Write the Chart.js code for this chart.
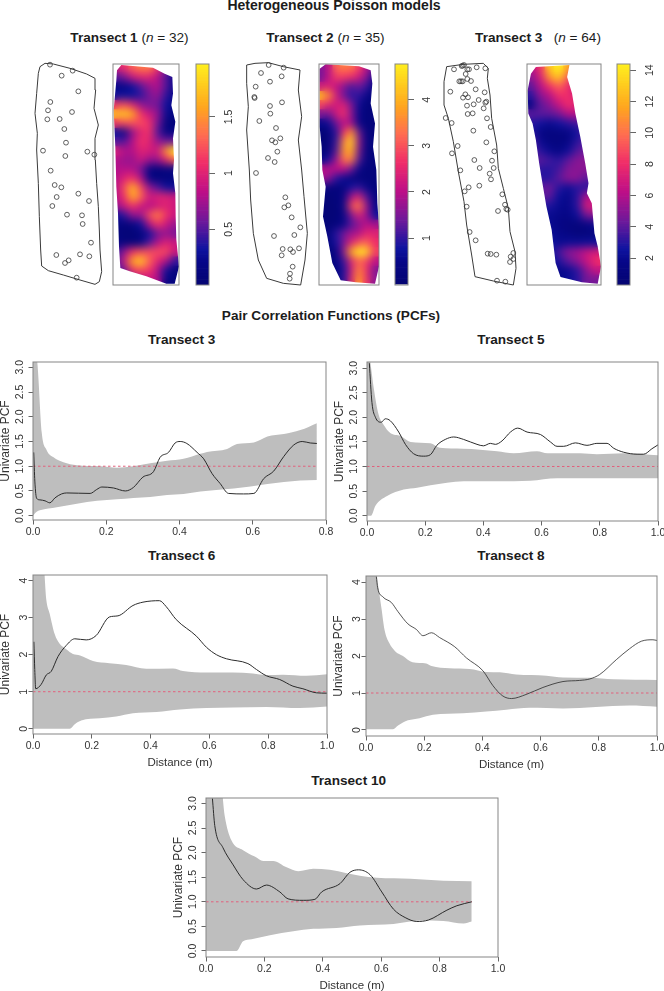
<!DOCTYPE html>
<html>
<head>
<meta charset="utf-8">
<title>Transect point patterns and PCFs</title>
<script src="https://cdn.jsdelivr.net/npm/chart.js@4"></script>
<style>
    html, body { margin: 0; padding: 0; background: #fff; }
    #page { position: relative; width: 664px; height: 991px; overflow: hidden; font-family: "Liberation Sans", Arial, sans-serif; color: #1c1c1c; }
    #page canvas { position: absolute; }
    .title { position: absolute; transform: translate(-50%, -50%); font-size: 13.6px; font-weight: bold; white-space: pre; }
    .title span { font-weight: normal; }
</style>
</head>
<body>
<div id="page">
    <div class="title" style="left:334px;top:5px;font-size:14px">Heterogeneous Poisson models</div>
    <div class="title" style="left:129.5px;top:37px">Transect 1 <span>(<i>n</i> = 32)</span></div>
    <div class="title" style="left:325.5px;top:37px">Transect 2 <span>(<i>n</i> = 35)</span></div>
    <div class="title" style="left:538px;top:37px">Transect 3   <span>(<i>n</i> = 64)</span></div>
    <div class="title" style="left:331px;top:315px">Pair Correlation Functions (PCFs)</div>
    <div class="title" style="left:181.7px;top:339px">Transect 3</div>
    <div class="title" style="left:511px;top:339px">Transect 5</div>
    <div class="title" style="left:181.7px;top:555px">Transect 6</div>
    <div class="title" style="left:511px;top:555px">Transect 8</div>
    <div class="title" style="left:348.7px;top:780px">Transect 10</div>
</div>
<script>
// ---- point patterns, coordinates (3x crop units)
const t1Outline = [[75,40],[60,50],[55,70],[50,130],[45,190],[52,250],[50,300],[55,400],[58,500],[62,600],[65,648],[85,662],[130,675],[180,690],[225,703],[238,695],[245,665],[240,600],[238,540],[235,470],[230,400],[226,330],[225,265],[235,225],[222,175],[227,120],[225,85],[200,72],[150,55],[100,42]];
const t1Points = [[90,44],[158,62],[125,77],[175,124],[91,156],[84,181],[156,186],[82,208],[119,207],[133,237],[138,278],[69,302],[202,305],[223,314],[136,318],[92,362],[104,405],[124,412],[110,441],[175,431],[207,453],[97,468],[141,494],[186,496],[188,522],[213,578],[109,615],[180,613],[208,619],[146,631],[135,639],[170,683]];
const t2Outline = [[50,135],[75,130],[115,128],[160,140],[210,150],[205,210],[215,290],[205,360],[215,450],[222,530],[232,640],[225,720],[212,795],[160,790],[110,775],[85,720],[70,640],[62,540],[58,450],[50,330],[55,260],[50,190]];
const t2Points = [[116,135],[161,143],[93,159],[155,169],[120,185],[77,200],[73,231],[74,234],[156,247],[120,258],[121,281],[88,303],[138,324],[151,355],[126,361],[136,367],[142,395],[114,414],[134,426],[78,459],[166,532],[175,556],[163,562],[185,592],[211,622],[193,645],[132,648],[158,687],[181,688],[207,685],[189,696],[155,706],[188,740],[180,761],[179,776]];
const t3Outline = [[20,35],[70,28],[130,25],[145,40],[142,70],[150,120],[155,190],[170,270],[175,340],[190,400],[205,460],[210,530],[225,590],[228,640],[220,690],[160,678],[105,665],[95,600],[80,510],[72,440],[55,350],[40,260],[25,190],[12,150],[12,80]];
const t3Points = [[68,32],[72,30],[65,33],[42,43],[87,43],[110,37],[136,40],[77,57],[82,43],[58,79],[63,79],[68,79],[82,72],[93,78],[107,103],[31,110],[134,112],[76,118],[69,128],[84,127],[116,135],[139,140],[136,143],[101,148],[81,152],[131,160],[83,177],[98,175],[141,190],[17,189],[35,204],[152,216],[100,227],[139,262],[53,273],[163,289],[36,295],[103,315],[156,317],[119,339],[161,339],[61,346],[149,356],[153,373],[86,397],[118,392],[74,409],[187,418],[195,449],[80,455],[203,464],[199,462],[174,468],[89,531],[107,556],[143,596],[152,597],[169,599],[220,594],[212,605],[220,612],[210,621],[171,677],[196,680]];

// ---- intensity surfaces, one row per line
const gridRows = [25,52,80,108,135,163,191,219,246,274,302,329,357,385,412,440,468,495,523,551,578,606,634,661];
const t1Cols = [22,47,72,97,122,147,172,197];
const t1Grid = [
    [0.9,1.1,1.3,1.4,1.4,1.1,0.6,0.3],
    [0.5,0.6,0.9,1.0,1.0,0.8,0.5,0.2],
    [0.2,0.2,0.3,0.5,0.7,0.8,0.5,0.2],
    [0.3,0.3,0.3,0.4,0.6,0.7,0.4,0.2],
    [1.1,1.2,1.0,0.7,0.6,0.6,0.3,0.2],
    [1.7,1.8,1.6,1.1,0.9,0.7,0.25,0.1],
    [1.1,1.2,1.2,1.2,1.1,0.6,0.1,0.1],
    [0.3,0.2,0.7,1.0,1.1,0.5,0.15,0.2],
    [0.5,0.5,0.8,1.1,1.0,0.7,0.6,0.6],
    [1.0,0.8,0.8,1.0,0.95,0.9,1.5,1.95],
    [0.8,0.7,0.7,0.9,0.7,0.7,1.0,1.3],
    [0.8,0.8,0.8,0.6,0.15,0.1,0.15,0.2],
    [0.8,1.0,1.1,0.8,0.2,0.1,0.1,0.1],
    [0.8,1.2,1.7,1.2,0.7,0.5,0.3,0.3],
    [0.8,1.1,1.65,1.3,0.9,1.0,1.0,0.9],
    [0.7,0.9,1.1,0.9,0.8,0.9,1.0,0.9],
    [0.3,0.4,0.7,0.7,1.2,1.45,1.1,0.9],
    [0.15,0.1,0.15,0.3,0.8,1.1,0.9,0.7],
    [0.1,0.05,0.05,0.1,0.3,0.6,0.7,0.6],
    [0.2,0.1,0.1,0.2,0.5,0.8,1.0,0.9],
    [0.4,0.7,1.1,1.2,1.2,1.2,1.2,0.9],
    [0.5,0.9,1.6,1.8,1.3,1.0,0.8,0.4],
    [0.4,0.6,1.1,1.2,1.1,0.8,0.3,0.1],
    [0.3,0.4,0.7,0.8,0.9,0.8,0.2,0.1]
];
const t1Mask = [[35,14],[130,22],[165,40],[188,50],[190,100],[185,135],[197,185],[190,235],[193,300],[190,340],[197,400],[198,470],[200,540],[208,620],[195,672],[170,672],[110,650],[60,635],[32,625],[28,560],[25,460],[20,380],[17,260],[12,150],[20,60],[22,30]];

const t2Cols = [21,44,66,89,111,134,156,179];
const t2Grid = [
    [1.5,2.0,3.2,3.4,3.3,2.8,2.0,1.2],
    [1.4,2.0,2.8,2.7,2.6,2.2,1.6,0.6],
    [2.2,2.4,2.0,1.6,1.1,1.4,1.0,0.3],
    [4.1,3.6,2.2,1.4,0.9,1.0,0.5,0.2],
    [2.8,2.4,2.2,2.4,1.5,0.6,0.2,0.2],
    [1.5,1.4,2.2,2.7,1.6,0.5,0.2,0.2],
    [0.5,0.6,1.4,2.0,1.8,0.5,0.2,0.2],
    [0.1,0.2,0.9,2.6,3.7,1.4,0.2,0.2],
    [0.1,0.1,1.0,3.4,4.5,1.7,0.3,0.2],
    [0.2,0.2,1.2,3.6,4.0,1.5,0.2,0.2],
    [0.5,0.8,1.8,3.3,3.4,1.2,0.2,0.2],
    [2.0,2.0,2.0,2.0,1.4,0.5,0.2,0.2],
    [1.8,1.6,0.9,0.6,0.3,0.2,0.2,0.2],
    [0.4,0.3,0.2,0.3,0.8,1.0,0.5,0.2],
    [0.1,0.1,0.2,0.4,1.8,2.4,1.2,0.3],
    [0.1,0.1,0.1,0.5,2.8,3.5,1.8,0.5],
    [0.1,0.1,0.1,0.4,1.5,2.4,1.7,0.7],
    [0.1,0.1,0.2,0.5,1.2,1.6,2.0,1.8],
    [0.2,0.3,0.9,1.4,1.8,1.9,2.5,2.4],
    [0.2,0.3,0.8,1.5,2.4,3.0,3.2,2.6],
    [0.2,0.2,0.4,1.6,3.9,4.78,4.6,2.8],
    [0.2,0.2,0.4,1.0,2.4,3.2,2.8,2.0],
    [0.2,0.2,0.2,0.8,2.2,3.6,2.6,1.5],
    [0.2,0.2,0.3,0.9,2.4,3.8,2.7,1.6]
];
const t2Mask = [[12,25],[30,12],[130,18],[165,30],[170,70],[165,130],[178,190],[172,260],[182,330],[185,430],[190,500],[190,620],[178,672],[120,668],[75,662],[50,610],[35,530],[22,470],[30,380],[20,330],[18,260],[12,200],[12,120]];

const t3Cols = [27,55,83,111,139,167,195,223];
const t3Grid = [
    [6,8,13,14.4,12,7,5,4],
    [5,7,11,13,9.5,6,5,4],
    [4,6,8,9.5,8,6,5,4],
    [3,5,6,8,8,7,6,5],
    [1.5,4,5,6.5,8,7.5,6,5],
    [4,4,4,4.5,6,6,5,5],
    [3,2.5,2,2.5,3,3.5,4,4],
    [3,1.5,1.2,1.2,1.5,2.5,4,4],
    [4,2,1.3,1.2,1.5,3,4,4],
    [4,3,2,1.5,2.3,3.8,4.5,4],
    [4,4,3.5,3,4,5,5,5],
    [4,3,3,3.5,4.8,5,5,5],
    [4,3,3,4,5,5,4,4],
    [4,4,4.5,3,2.2,3,3,3],
    [4,4,4,2.3,1.8,3,6,6],
    [3,3,2.8,2,1.8,3,7,7],
    [2,2,2,1.8,1.6,2.3,4.5,5],
    [2,2,2,1.5,1.2,1,1.5,2],
    [2,2.8,2.2,1.8,1.5,1,1,1.2],
    [2,3,2.6,2,2.2,2.2,2.3,2.4],
    [2,2,2.4,3.5,5,5.5,6.5,7],
    [1.5,2,2.2,2.8,4,5,6.5,8],
    [1.5,1.5,1.6,1.8,2,3,5,6.5],
    [1.5,1.5,1.6,1.8,2.2,3,4.5,4.5]
];
const t3Mask = [[40,20],[142,14],[135,50],[150,100],[160,160],[175,230],[190,310],[200,370],[195,400],[210,430],[218,520],[228,560],[238,620],[228,672],[180,668],[115,652],[100,610],[88,510],[72,440],[60,370],[50,310],[40,240],[30,190],[17,160],[15,90],[25,40]];

// colour bar ranges and ticks
const t1Range = [0.005, 1.97];
const t1BarTicks = [0.5, 1, 1.5];
const t2Range = [-0.02, 4.78];
const t2BarTicks = [1, 2, 3, 4];
const t3Range = [0.28, 14.4];
const t3BarTicks = [2, 4, 6, 8, 10, 12, 14];

// position along the colour bar -> colour
const paletteStops = [0, 0.1, 0.16, 0.28, 0.42, 0.55, 0.68, 0.8, 1];
const paletteColors = [[5,5,115],[6,6,135],[14,20,160],[105,25,155],[190,15,135],[240,45,105],[255,110,80],[255,165,30],[255,240,30]];

// ---- PCF envelopes and curves, [distance, pcf]
const pcf3Upper = [[0,3.6],[0.012,3.08],[0.024,1.67],[0.037,1.33],[0.056,1.18],[0.083,1.08],[0.12,1.02],[0.183,1.0],[0.229,0.97],[0.274,1.0],[0.32,1.06],[0.366,1.11],[0.411,1.15],[0.457,1.25],[0.475,1.29],[0.53,1.35],[0.557,1.45],[0.603,1.48],[0.64,1.6],[0.685,1.65],[0.73,1.73],[0.775,1.87]];
const pcf3Lower = [[0,0],[0.01,0.08],[0.019,0.11],[0.065,0.17],[0.12,0.24],[0.175,0.3],[0.229,0.33],[0.274,0.36],[0.32,0.38],[0.366,0.42],[0.411,0.44],[0.457,0.49],[0.5,0.52],[0.548,0.55],[0.594,0.59],[0.64,0.64],[0.685,0.68],[0.73,0.71],[0.775,0.72]];
const pcf3Curve = [[0.002,1.28],[0.005,0.7],[0.01,0.35],[0.019,0.32],[0.033,0.3],[0.046,0.26],[0.06,0.36],[0.078,0.44],[0.092,0.46],[0.156,0.45],[0.174,0.53],[0.188,0.58],[0.22,0.56],[0.252,0.5],[0.274,0.57],[0.3,0.78],[0.329,0.89],[0.347,1.18],[0.37,1.28],[0.388,1.47],[0.402,1.5],[0.42,1.46],[0.448,1.28],[0.466,1.15],[0.489,0.85],[0.511,0.65],[0.534,0.45],[0.575,0.44],[0.603,0.45],[0.63,0.75],[0.657,0.9],[0.685,1.2],[0.712,1.43],[0.735,1.5],[0.757,1.47],[0.775,1.46]];

const pcf5Upper = [[0,3.6],[0.012,3.1],[0.023,2.6],[0.04,2.05],[0.057,1.85],[0.08,1.68],[0.115,1.62],[0.15,1.5],[0.218,1.47],[0.25,1.38],[0.33,1.36],[0.447,1.31],[0.504,1.27],[0.584,1.31],[0.62,1.27],[0.733,1.27],[0.79,1.25],[0.882,1.27],[1,1.23]];
const pcf5Lower = [[0,0],[0.014,0],[0.029,0.2],[0.069,0.4],[0.126,0.53],[0.172,0.57],[0.218,0.62],[0.275,0.67],[0.332,0.7],[0.447,0.7],[0.561,0.71],[0.653,0.76],[0.79,0.76],[1,0.76]];
const pcf5Curve = [[0.008,3.1],[0.017,2.3],[0.029,2.0],[0.049,1.9],[0.063,1.97],[0.08,1.93],[0.109,1.7],[0.132,1.45],[0.16,1.26],[0.195,1.21],[0.218,1.24],[0.24,1.43],[0.269,1.55],[0.298,1.6],[0.332,1.55],[0.378,1.45],[0.4,1.42],[0.424,1.47],[0.441,1.45],[0.464,1.52],[0.493,1.7],[0.518,1.78],[0.55,1.7],[0.596,1.65],[0.63,1.5],[0.653,1.41],[0.676,1.41],[0.716,1.48],[0.756,1.43],[0.79,1.47],[0.825,1.47],[0.848,1.37],[0.882,1.29],[0.928,1.25],[0.951,1.25],[0.979,1.36],[1,1.44]];

const pcf6Upper = [[0,4.6],[0.034,4.6],[0.045,3.5],[0.057,3.1],[0.074,2.55],[0.09,2.3],[0.113,2.15],[0.136,2.02],[0.16,1.98],[0.204,1.83],[0.26,1.77],[0.317,1.72],[0.385,1.62],[0.476,1.63],[0.51,1.56],[0.59,1.52],[0.68,1.52],[0.748,1.49],[0.794,1.45],[0.85,1.46],[0.93,1.43],[1,1.47]];
const pcf6Lower = [[0,0],[0.125,0],[0.142,0.12],[0.164,0.22],[0.227,0.28],[0.283,0.33],[0.34,0.42],[0.42,0.45],[0.5,0.52],[0.59,0.56],[0.68,0.57],[0.794,0.59],[0.907,0.56],[1,0.6]];
const pcf6Curve = [[0.003,2.35],[0.006,1.6],[0.009,1.08],[0.028,1.2],[0.045,1.45],[0.062,1.55],[0.085,1.95],[0.113,2.25],[0.142,2.43],[0.181,2.4],[0.215,2.52],[0.26,3.02],[0.289,3.05],[0.34,3.33],[0.374,3.42],[0.43,3.46],[0.453,3.3],[0.487,2.95],[0.556,2.5],[0.59,2.2],[0.624,2.0],[0.658,1.89],[0.731,1.76],[0.76,1.6],[0.794,1.43],[0.839,1.33],[0.884,1.15],[0.918,1.08],[0.964,0.97],[1,0.96]];

const pcf8Upper = [[0,4.6],[0.03,4.6],[0.04,4],[0.053,3.3],[0.064,2.7],[0.08,2.35],[0.1,2.13],[0.127,2.0],[0.16,1.83],[0.207,1.8],[0.225,1.73],[0.287,1.67],[0.356,1.65],[0.413,1.57],[0.46,1.56],[0.516,1.5],[0.62,1.47],[0.677,1.42],[0.769,1.41],[0.85,1.37],[1,1.35]];
const pcf8Lower = [[0,0.02],[0.093,0.02],[0.11,0.12],[0.144,0.26],[0.184,0.32],[0.23,0.41],[0.333,0.45],[0.413,0.5],[0.482,0.55],[0.562,0.6],[0.677,0.58],[0.79,0.62],[0.905,0.66],[1,0.63]];
const pcf8Curve = [[0.0355,4.15],[0.04,3.85],[0.058,3.6],[0.087,3.45],[0.11,3.2],[0.144,2.87],[0.173,2.72],[0.196,2.55],[0.225,2.63],[0.253,2.5],[0.305,2.25],[0.345,1.95],[0.402,1.6],[0.436,1.2],[0.47,0.92],[0.5,0.85],[0.55,0.96],[0.608,1.15],[0.677,1.31],[0.734,1.34],[0.769,1.38],[0.803,1.5],[0.86,1.9],[0.906,2.2],[0.946,2.4],[0.986,2.44],[1,2.42]];

const pcf10Upper = [[0,3.6],[0.047,3.6],[0.064,2.75],[0.087,2.25],[0.127,2.05],[0.167,1.92],[0.196,1.83],[0.23,1.83],[0.276,1.7],[0.316,1.62],[0.367,1.67],[0.424,1.65],[0.482,1.58],[0.527,1.53],[0.585,1.49],[0.7,1.47],[0.813,1.43],[0.91,1.42]];
const pcf10Lower = [[0,0],[0.104,0],[0.127,0.2],[0.156,0.24],[0.219,0.32],[0.299,0.4],[0.367,0.45],[0.447,0.47],[0.527,0.52],[0.642,0.55],[0.733,0.62],[0.813,0.61],[0.882,0.56],[0.91,0.6]];
const pcf10Curve = [[0.022,3.1],[0.03,2.55],[0.058,2.1],[0.093,1.75],[0.127,1.45],[0.173,1.26],[0.207,1.34],[0.253,1.2],[0.281,1.06],[0.333,1.03],[0.373,1.05],[0.396,1.2],[0.459,1.37],[0.493,1.6],[0.522,1.65],[0.562,1.55],[0.602,1.2],[0.642,0.85],[0.682,0.68],[0.722,0.6],[0.762,0.63],[0.825,0.83],[0.859,0.92],[0.91,1.0]];

const FONT = '"Liberation Sans", Arial, sans-serif';
const FRAME_COLOR = '#858585';
const page = document.getElementById('page');

function addCanvas(left, top, width, height) {
    const canvas = document.createElement('canvas');
    canvas.width = width;
    canvas.height = height;
    canvas.style.left = left + 'px';
    canvas.style.top = top + 'px';
    canvas.style.width = width + 'px';
    canvas.style.height = height + 'px';
    page.appendChild(canvas);
    return canvas;
}

function toXY(pairs) {
    return pairs.map(p => ({ x: p[0], y: p[1] }));
}

function paletteColor(frac) {
    const f = Math.min(1, Math.max(0, frac));
    let i = 0;
    while (i < paletteStops.length - 2 && f > paletteStops[i + 1]) i++;
    const t = (f - paletteStops[i]) / (paletteStops[i + 1] - paletteStops[i]);
    const a = paletteColors[i], b = paletteColors[i + 1];
    return `rgb(${a.map((v, k) => Math.round(v + (b[k] - v) * t)).join(',')})`;
}

// grey box round the plot area
const framePlugin = {
    id: 'frame',
    afterDraw(chart) {
        const { ctx, chartArea: a } = chart;
        ctx.save();
        ctx.strokeStyle = FRAME_COLOR;
        ctx.lineWidth = 1;
        ctx.strokeRect(a.left, a.top, a.right - a.left, a.bottom - a.top);
        ctx.restore();
    }
};

// smooth the drawn cells, then white out everything outside the transect shape
function smoothMaskPlugin(mask) {
    return {
        id: 'smoothMask',
        afterDatasetsDraw(chart) {
            const { ctx, canvas, scales } = chart;
            const copy = document.createElement('canvas');
            copy.width = canvas.width;
            copy.height = canvas.height;
            copy.getContext('2d').drawImage(canvas, 0, 0);
            ctx.save();
            ctx.setTransform(1, 0, 0, 1, 0, 0);
            ctx.filter = 'blur(4.4px)';
            ctx.drawImage(copy, 0, 0);
            ctx.filter = 'none';
            ctx.beginPath();
            ctx.rect(0, 0, canvas.width, canvas.height);
            mask.forEach((p, i) => {
                const px = scales.x.getPixelForValue(p[0]);
                const py = scales.y.getPixelForValue(p[1]);
                if (i === 0) ctx.moveTo(px, py);
                else ctx.lineTo(px, py);
            });
            ctx.closePath();
            ctx.fillStyle = '#fff';
            ctx.fill('evenodd');
            ctx.restore();
        }
    };
}

function drawPattern(left, top, width, height, outline, points) {
    new Chart(addCanvas(left, top, width, height), {
        type: 'scatter',
        data: {
            datasets: [
                {
                    data: toXY(points),
                    pointRadius: 2.4,
                    borderColor: '#3a3a3a',
                    borderWidth: 0.8,
                    backgroundColor: 'rgba(0,0,0,0)',
                    order: 0
                },
                {
                    data: toXY(outline.concat([outline[0]])),
                    showLine: true,
                    pointRadius: 0,
                    borderColor: '#3a3a3a',
                    borderWidth: 1,
                    order: 1
                }
            ]
        },
        options: {
            responsive: false,
            animation: false,
            plugins: { legend: { display: false }, tooltip: { enabled: false } },
            layout: { padding: 0, autoPadding: false },
            scales: {
                x: { display: false, min: 0, max: width * 3 },
                y: { display: false, min: 0, max: height * 3, reverse: true }
            }
        }
    });
}

function drawHeat(left, top, width, height, xMin, xMax, cols, grid, mask, range) {
    const cells = [];
    const colors = [];
    grid.forEach((row, r) => {
        row.forEach((v, c) => {
            cells.push({ x: cols[c], y: gridRows[r] });
            colors.push(paletteColor((v - range[0]) / (range[1] - range[0])));
        });
    });
    new Chart(addCanvas(left, top, width, height), {
        type: 'scatter',
        data: {
            datasets: [{
                data: cells,
                pointStyle: 'rect',
                pointRadius: 7.4,
                borderWidth: 0,
                backgroundColor: colors,
                pointBackgroundColor: colors
            }]
        },
        options: {
            responsive: false,
            animation: false,
            plugins: { legend: { display: false }, tooltip: { enabled: false } },
            layout: { padding: 1, autoPadding: false },
            scales: {
                x: { display: false, min: xMin, max: xMax },
                y: { display: false, min: 11, max: 676, reverse: true }
            }
        },
        plugins: [smoothMaskPlugin(mask), framePlugin]
    });
}

function drawColorBar(left, top, barWidth, height, range, ticks, labelPad) {
    const levels = 80;
    const step = (range[1] - range[0]) / levels;
    const datasets = [];
    for (let i = 0; i < levels; i++) {
        datasets.push({
            data: [i === 0 ? Math.max(range[0], 0) + step : step],
            backgroundColor: paletteColor((i + 0.5) / levels),
            borderWidth: 0,
            barPercentage: 1,
            categoryPercentage: 1
        });
    }
    const axisWidth = 34;
    new Chart(addCanvas(left, top, barWidth + 2 + axisWidth, height), {
        type: 'bar',
        data: { labels: ['level'], datasets: datasets },
        options: {
            responsive: false,
            animation: false,
            plugins: { legend: { display: false }, tooltip: { enabled: false } },
            layout: { padding: { left: 1, top: 1, bottom: 1, right: 0 } },
            scales: {
                x: { display: false, stacked: true },
                y: {
                    stacked: true,
                    position: 'right',
                    min: range[0],
                    max: range[1],
                    afterBuildTicks: scale => { scale.ticks = ticks.map(v => ({ value: v })); },
                    afterFit: scale => {
                        scale.width = axisWidth;
                        scale.paddingTop = 0;
                        scale.paddingBottom = 0;
                    },
                    border: { display: false },
                    grid: { drawOnChartArea: false, tickLength: 6, tickColor: '#666' },
                    ticks: {
                        callback: v => String(v),
                        minRotation: 90,
                        maxRotation: 90,
                        crossAlign: 'center',
                        padding: labelPad,
                        color: '#333',
                        font: { family: FONT, size: 10.5 }
                    }
                }
            }
        },
        plugins: [framePlugin]
    });
}

const xTicks = [0, 0.2, 0.4, 0.6, 0.8, 1];

function drawPcf(cfg) {
    const axisLeft = 36, padTop = 6, padRight = 10;
    const axisBottom = cfg.xTitle ? 36 : 20;
    const canvas = addCanvas(cfg.left - axisLeft, cfg.top - padTop,
        cfg.width + axisLeft + padRight, cfg.height + padTop + axisBottom);
    const lastX = cfg.upper[cfg.upper.length - 1][0];
    new Chart(canvas, {
        type: 'scatter',
        data: {
            datasets: [
                { data: toXY(cfg.upper), showLine: true, pointRadius: 0, borderWidth: 0, cubicInterpolationMode: 'monotone', order: 3 },
                { data: toXY(cfg.lower), showLine: true, pointRadius: 0, borderWidth: 0, cubicInterpolationMode: 'monotone', fill: '-1', backgroundColor: '#bebebe', order: 2 },
                { data: toXY([[0, 1], [lastX, 1]]), showLine: true, pointRadius: 0, borderWidth: 1, borderColor: '#e2607c', borderDash: [2.5, 2.5], order: 1 },
                { data: toXY(cfg.curve), showLine: true, pointRadius: 0, borderWidth: cfg.lineWidth || 1, borderColor: '#2b2b2b', cubicInterpolationMode: 'monotone', order: 0 }
            ]
        },
        options: {
            responsive: false,
            animation: false,
            plugins: { legend: { display: false }, tooltip: { enabled: false } },
            layout: { padding: { top: padTop, right: padRight, left: 0, bottom: 0 }, autoPadding: false },
            scales: {
                x: {
                    min: 0,
                    max: cfg.xMax,
                    afterBuildTicks: scale => { scale.ticks = cfg.xTicks.map(v => ({ value: v })); },
                    afterFit: scale => {
                        scale.height = axisBottom;
                        scale.paddingLeft = 0;
                        scale.paddingRight = 0;
                    },
                    border: { display: false },
                    grid: { drawOnChartArea: false, tickLength: 4.5, tickColor: '#666' },
                    ticks: {
                        callback: v => v.toFixed(1),
                        maxRotation: 0,
                        padding: 1,
                        color: '#333',
                        font: { family: FONT, size: 10.5 }
                    },
                    title: {
                        display: !!cfg.xTitle,
                        text: 'Distance (m)',
                        color: '#333',
                        padding: { top: 0, bottom: 0 },
                        font: { family: FONT, size: 11.5 }
                    }
                },
                y: {
                    min: cfg.yMin,
                    max: cfg.yMax,
                    afterBuildTicks: scale => { scale.ticks = cfg.yTicks.map(v => ({ value: v })); },
                    afterFit: scale => {
                        scale.width = axisLeft;
                        scale.paddingTop = 0;
                        scale.paddingBottom = 0;
                    },
                    border: { display: false },
                    grid: { drawOnChartArea: false, tickLength: 4.5, tickColor: '#666' },
                    ticks: {
                        callback: v => v.toFixed(cfg.yDecimals),
                        minRotation: 90,
                        maxRotation: 90,
                        crossAlign: 'center',
                        padding: 1.5,
                        color: '#333',
                        font: { family: FONT, size: 10.5 }
                    },
                    title: {
                        display: true,
                        text: 'Univariate PCF',
                        color: '#333',
                        padding: { top: 1, bottom: 0 },
                        font: { family: FONT, size: 12 }
                    }
                }
            }
        },
        plugins: [framePlugin]
    });
}

// top row
drawPattern(20, 50, 110, 240, t1Outline, t1Points);
drawHeat(112, 63, 68, 223, 10, 208, t1Cols, t1Grid, t1Mask, t1Range);
drawColorBar(195, 63, 12, 223, t1Range, t1BarTicks, 6.5);

drawPattern(230, 20, 140, 280, t2Outline, t2Points);
drawHeat(318, 63, 62, 223, 10, 190, t2Cols, t2Grid, t2Mask, t2Range);
drawColorBar(394, 63, 12, 223, t2Range, t2BarTicks, 10);

drawPattern(440, 55, 85, 235, t3Outline, t3Points);
drawHeat(526, 63, 76, 223, 13, 238, t3Cols, t3Grid, t3Mask, t3Range);
drawColorBar(616, 63, 12, 223, t3Range, t3BarTicks, 8.5);

// PCF panels
drawPcf({ left: 33, top: 362, width: 293, height: 158, xMax: 0.8, xTicks: [0, 0.2, 0.4, 0.6, 0.8], yMin: -0.087, yMax: 3.107, yTicks: [0, 0.5, 1, 1.5, 2, 2.5, 3], yDecimals: 1, upper: pcf3Upper, lower: pcf3Lower, curve: pcf3Curve });
drawPcf({ left: 367, top: 362, width: 291, height: 159, xMax: 1, xTicks: xTicks, yMin: -0.108, yMax: 3.124, yTicks: [0, 0.5, 1, 1.5, 2, 2.5, 3], yDecimals: 1, upper: pcf5Upper, lower: pcf5Lower, curve: pcf5Curve });
drawPcf({ left: 33, top: 575, width: 294, height: 159, xMax: 1, xTicks: xTicks, yMin: -0.143, yMax: 4.154, yTicks: [0, 1, 2, 3, 4], yDecimals: 0, xTitle: true, upper: pcf6Upper, lower: pcf6Lower, curve: pcf6Curve });
drawPcf({ left: 366, top: 576, width: 291, height: 160, xMax: 1, xTicks: xTicks, yMin: -0.163, yMax: 4.165, yTicks: [0, 1, 2, 3, 4], yDecimals: 0, xTitle: true, lineWidth: 0.8, upper: pcf8Upper, lower: pcf8Lower, curve: pcf8Curve });
drawPcf({ left: 206, top: 798, width: 292, height: 159, xMax: 1, xTicks: xTicks, yMin: -0.122, yMax: 3.11, yTicks: [0, 0.5, 1, 1.5, 2, 2.5, 3], yDecimals: 1, xTitle: true, upper: pcf10Upper, lower: pcf10Lower, curve: pcf10Curve });
</script>
</body>
</html>
